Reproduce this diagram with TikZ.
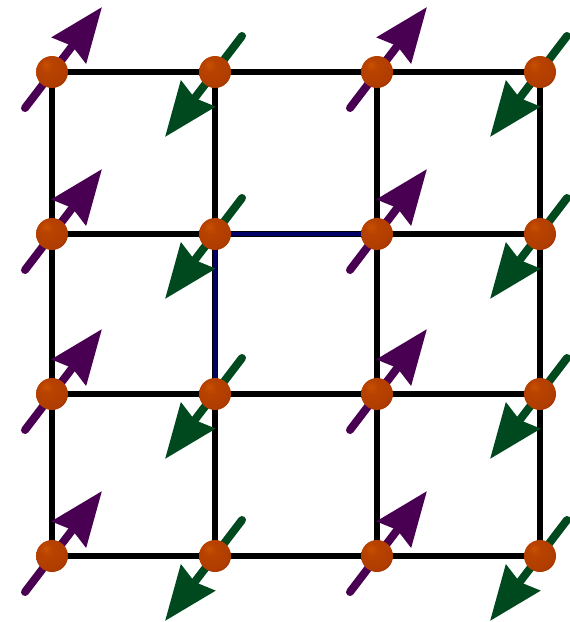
\documentclass[tikz,border=0pt]{standalone}
\usepackage{tikz}
\usetikzlibrary{arrows.meta,calc}
\definecolor{spinUp}{HTML}{4A0052}
\definecolor{spinDown}{HTML}{00491F}
\definecolor{bond}{HTML}{000066}
\definecolor{atom}{HTML}{B03C00}
\pgfdeclareradialshading{atomball}{\pgfpoint{-10bp}{12bp}}{%
  color(0bp)=(atom!70!orange);
  color(10bp)=(atom!90!orange);
  color(28bp)=(atom);
  color(46bp)=(atom!60!black);
  color(60bp)=(atom!35!black)}

\begin{document}
\begin{tikzpicture}[x=1pt,y=-1pt,
  site/.style={circle,minimum size=32pt,inner sep=0pt,shading=atomball},
  link/.style={line width=6.5pt,draw=black},
  hop/.style={line width=4.2pt,draw=bond},
  up/.style={line width=8pt,line cap=round,draw=spinUp,-{Stealth[length=54pt,width=42pt,inset=5pt]}},
  down/.style={up,draw=spinDown}
]
\useasboundingbox (0,0) rectangle (570,622);
% lattice sites
\foreach \i/\x in {0/52,1/215,2/377,3/540}
  \foreach \j/\y in {0/72,1/234,2/394,3/556}
    \coordinate (s\i\j) at (\x,\y);
% bonds
\foreach \j in {0,...,3} {
  \draw[link] (s0\j) -- (s3\j);
  \draw[link] (s\j0) -- (s\j3);
}
\draw[hop] (s21) -- (s11) -- (s12);
% spins
\foreach \i in {0,2}
  \foreach \j in {0,...,3}
    \draw[up] ($(s\i\j)+(-27,36)$) -- ($(s\i\j)+(50,-65)$);
\foreach \i in {1,3}
  \foreach \j in {0,...,3}
    \draw[down] ($(s\i\j)+(27,-36)$) -- ($(s\i\j)+(-50,65)$);
% atoms
\foreach \i in {0,...,3}
  \foreach \j in {0,...,3}
    \node[site] (a\i\j) at (s\i\j) {};
\end{tikzpicture}
\end{document}
